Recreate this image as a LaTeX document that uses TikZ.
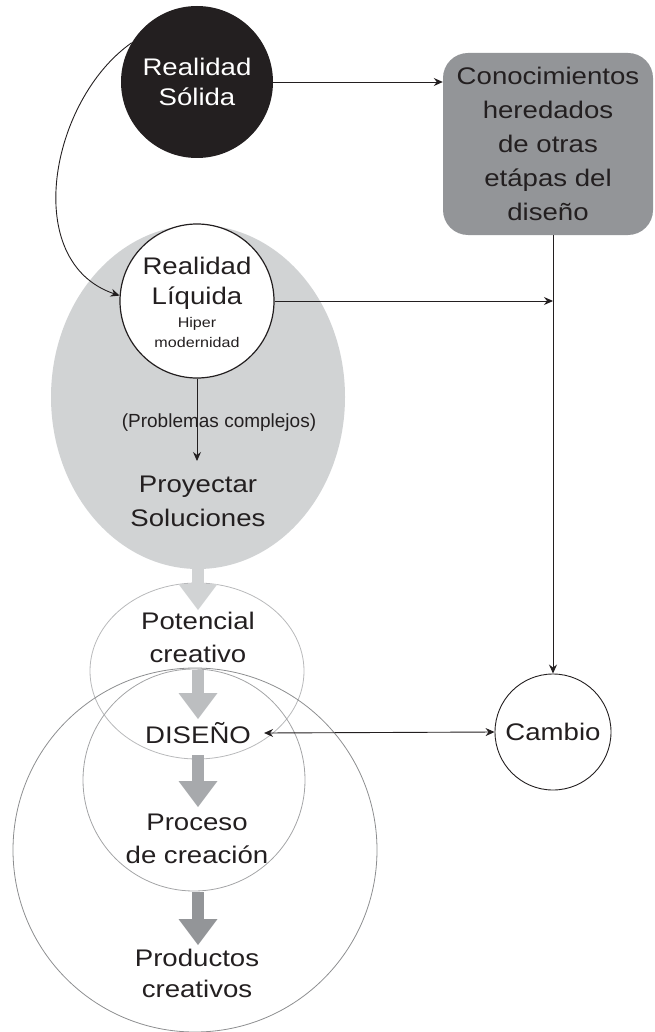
\documentclass[tikz,border=0pt]{standalone}
\usepackage{fontspec}
\setmainfont{Liberation Sans}[FakeStretch=1.15]
\newfontfamily\plainsans{Liberation Sans}
\usetikzlibrary{arrows.meta,shapes.geometric}

\definecolor{ink}{HTML}{231F20}
\definecolor{palefill}{HTML}{D1D3D4}
\definecolor{boxgray}{HTML}{939598}
\definecolor{flowA}{HTML}{D1D3D4}
\definecolor{flowB}{HTML}{BCBEC0}
\definecolor{flowC}{HTML}{A7A9AC}
\definecolor{flowD}{HTML}{939598}
\definecolor{ringA}{HTML}{B8B9BB}
\definecolor{ringB}{HTML}{A3A4A6}
\definecolor{ringC}{HTML}{8C8D8F}

\tikzset{
  big/.style={font=\fontsize{24}{33}\selectfont, text=ink, align=center, inner sep=0pt},
  small/.style={font=\fontsize{14}{18}\selectfont, text=ink, align=center, inner sep=0pt},
  link/.style={draw=ink, line width=0.9pt, -{Stealth[length=9pt,width=8pt,inset=3pt]}},
  fatarrow/.style={line width=12pt, -{Triangle[length=26pt,width=39pt,line width=0pt]}},
  ring/.style={circle, draw, line width=0.8pt, inner sep=0pt},
}

\begin{document}
\begin{tikzpicture}[x=1pt,y=-1pt]
\useasboundingbox (0,0) rectangle (654,1032);

% large pale field around the liquid reality
\node[ellipse, fill=palefill, minimum width=294pt, minimum height=344pt, inner sep=0pt] (field) at (198,397) {};

% nested rings of the creative process
\node[ellipse, draw=ringA, line width=0.8pt, minimum width=214pt, minimum height=176pt, inner sep=0pt] (pot) at (197,671) {};
\node[ring, draw=ringB, minimum size=222pt] (proc) at (194,780) {};
\node[ring, draw=ringC, minimum size=364pt] (outer) at (195,850) {};

% solid reality
\node[circle, fill=ink, minimum size=152pt, inner sep=0pt, big, text=white, font=\fontsize{24}{30}\selectfont] (solid) at (197,82) {Realidad\\Sólida};

% inherited knowledge box
\node[rectangle, rounded corners=25pt, fill=boxgray, minimum width=210pt, minimum height=182pt, big, font=\fontsize{24}{34}\selectfont] (box) at (548,144) {Conocimientos\\heredados\\de otras\\etápas del\\diseño};

% liquid reality
\node[circle, fill=white, draw=ink, line width=1.2pt, minimum size=154pt, inner sep=0pt] (liq) at (197,301) {};
\node[big, font=\fontsize{24}{30}\selectfont] (liqtxt) at (197,283) {Realidad\\Líquida};
\node[small, font=\fontsize{14}{20}\selectfont] (hiper) at (197,332) {Hiper\\modernidad};

\node[big, font=\plainsans\fontsize{19}{22}\selectfont] (prob) at (219,423) {(Problemas complejos)};
\coordinate (projtop) at (197,461);
\node[big, font=\fontsize{24}{34}\selectfont] (proj) at (198,501) {Proyectar\\Soluciones};

% texts of the creative rings
\node[big] (potxt) at (198,637) {Potencial\\creativo};
\node[big] (dis) at (198,733) {DISEÑO};
\node[big] (proctxt) at (197,839) {Proceso\\de creación};
\node[big, font=\fontsize{24}{31}\selectfont] (prodtxt) at (197,973) {Productos\\creativos};

% change
\node[ring, draw=ink, line width=0.9pt, minimum size=116pt, big] (cambio) at (553,732) {Cambio};

% thin connectors
\draw[link] (solid.east) -- (solid.east -| box.west);
\draw[link] (solid.149) .. controls (50,100) and (20,262) .. (liq.176);
\draw[link] (liq.south) -- (projtop);
\draw[link] (liq.east) -- (liq.east -| cambio.north);
\draw[link] (box.south -| cambio.north) -- (cambio.north);
\draw[draw=ink, line width=0.9pt, {Stealth[length=9pt,width=8pt,inset=3pt]}-{Stealth[length=9pt,width=8pt,inset=3pt]}]
  ([xshift=13pt]dis.east) -- (cambio.west);

% broad flow arrows
\coordinate (a1s) at (198,565); \coordinate (a1e) at (198,610);
\coordinate (a2s) at (198,670); \coordinate (a2e) at (198,719);
\coordinate (a3s) at (198,755); \coordinate (a3e) at (198,807);
\coordinate (a4s) at (198,892); \coordinate (a4e) at (198,945);
\draw[fatarrow, draw=flowA, fill=flowA] (a1s) -- (a1e);
\draw[fatarrow, draw=flowB, fill=flowB] (a2s) -- (a2e);
\draw[fatarrow, draw=flowC, fill=flowC] (a3s) -- (a3e);
\draw[fatarrow, draw=flowD, fill=flowD] (a4s) -- (a4e);
\end{tikzpicture}
\end{document}
